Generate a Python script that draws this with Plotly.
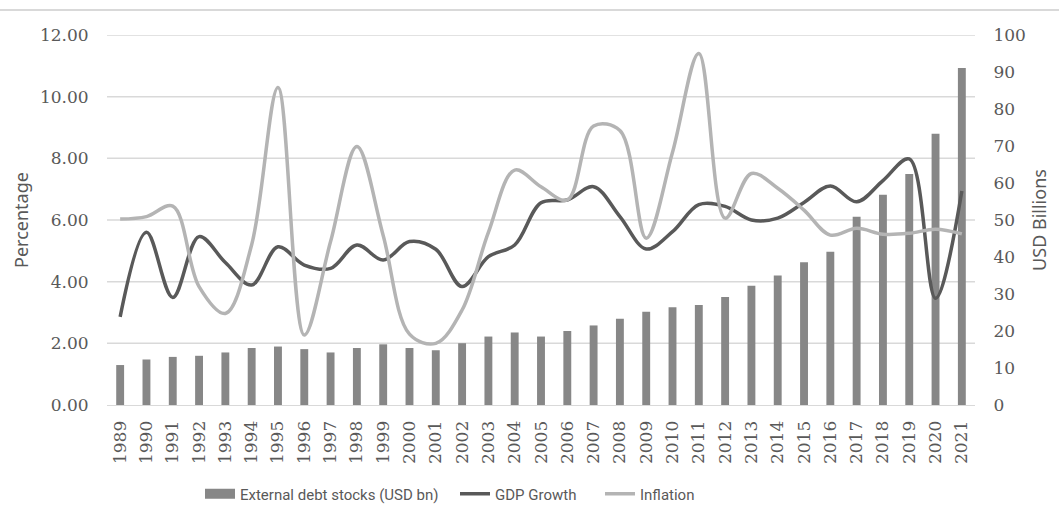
import plotly.graph_objects as go

years = [str(y) for y in range(1989, 2022)]
debt_usd_bn = [10.8, 12.3, 13.0, 13.3, 14.2, 15.4, 15.8, 15.1, 14.2, 15.4,
               16.4, 15.4, 14.8, 16.7, 18.5, 19.6, 18.5, 20.0, 21.5, 23.3,
               25.2, 26.4, 27.0, 29.2, 32.2, 35.0, 38.6, 41.4, 50.9, 56.8,
               62.4, 73.3, 91.1]
gdp_growth = [2.86, 5.60, 3.49, 5.46, 4.62, 3.89, 5.13, 4.54, 4.43, 5.19,
              4.70, 5.30, 5.05, 3.84, 4.81, 5.19, 6.56, 6.65, 7.08, 6.11,
              5.06, 5.62, 6.50, 6.44, 6.00, 6.06, 6.57, 7.10, 6.59, 7.28,
              7.98, 3.46, 6.94]
inflation = [6.03, 6.11, 6.45, 3.84, 2.97, 5.20, 10.30, 2.27, 5.30, 8.38,
             5.50, 2.30, 2.00, 3.08, 5.60, 7.62, 7.08, 6.65, 9.05, 8.90,
             5.41, 8.20, 11.40, 6.06, 7.51, 7.03, 6.32, 5.51, 5.73, 5.54,
             5.57, 5.70, 5.55]
left_ticks = [0, 2, 4, 6, 8, 10, 12]
right_ticks = list(range(0, 101, 10))

BAR_C = "#878787"
GDP_C = "#595959"
INF_C = "#b4b4b4"
TXT_C = "#595959"
GRID_C = "#d9d9d9"

W, H = 1059, 506
L, R, T, B = 107, 84, 35, 101
pw, ph = W - L - R, H - T - B

tick_font = dict(family="DejaVu Serif", size=17, color=TXT_C)
leg_font = dict(family="Roboto, sans-serif", size=15, color=TXT_C)
title_font = dict(family="Noto Sans", size=18, color=TXT_C)

fig = go.Figure()
# bars on the base (right-side) axis so the lines overlay them
fig.add_trace(go.Bar(x=years, y=debt_usd_bn, yaxis="y", marker_color=BAR_C,
                     marker_line_width=0, showlegend=False,
                     name="External debt stocks (USD bn)"))
# legend swatch for the bars (rectangular like the original)
fig.add_trace(go.Scatter(x=[years[0]], y=[None], yaxis="y", mode="lines",
                         line=dict(color=BAR_C, width=10),
                         name="External debt stocks (USD bn)", legend="legend"))
fig.add_trace(go.Scatter(x=years, y=gdp_growth, yaxis="y2", mode="lines",
                         line=dict(color=GDP_C, width=3.5, shape="spline", smoothing=1.0),
                         name="GDP Growth", legend="legend2"))
fig.add_trace(go.Scatter(x=years, y=inflation, yaxis="y2", mode="lines",
                         line=dict(color=INF_C, width=3.5, shape="spline", smoothing=1.0),
                         name="Inflation", legend="legend3"))

def lx(px):
    return (px - L) / pw

leg_y = (T + ph - 494) / ph
common_leg = dict(orientation="h", yanchor="middle", y=leg_y, xanchor="left",
                  font=leg_font, bgcolor="rgba(0,0,0,0)", itemwidth=30)

fig.update_layout(
    width=W, height=H,
    margin=dict(l=L, r=R, t=T, b=B, autoexpand=False),
    paper_bgcolor="white", plot_bgcolor="white",
    bargap=0.7,
    xaxis=dict(type="category", tickangle=-90, tickfont=tick_font,
               showgrid=False, showline=True, linecolor=GRID_C, linewidth=1,
               ticks="outside", ticklen=8, tickcolor="rgba(0,0,0,0)"),
    yaxis=dict(range=[0, 100], side="right", tickvals=right_ticks,
               tickfont=tick_font, showgrid=False, zeroline=False,
               ticks="outside", ticklen=14, tickcolor="rgba(0,0,0,0)",
               title=dict(text="USD Billions", font=title_font, standoff=8)),
    yaxis2=dict(range=[0, 12], overlaying="y", side="left", tickvals=left_ticks,
                ticktext=[f"{v:.2f}" for v in left_ticks],
                tickfont=tick_font, showgrid=False,
                zeroline=False, ticks="outside", ticklen=14, tickcolor="rgba(0,0,0,0)",
                title=dict(text="Percentage", font=title_font, standoff=6)),
    legend=dict(common_leg, x=lx(200)),
    legend2=dict(common_leg, x=lx(455)),
    legend3=dict(common_leg, x=lx(600)),
)

# horizontal gridlines of the percentage axis, drawn beneath the data
for v in left_ticks[1:]:
    fig.add_shape(type="line", xref="x domain", yref="y2", x0=0, x1=1, y0=v, y1=v,
                  line=dict(color=GRID_C, width=1.5), layer="below")

# chart-area top border
fig.add_shape(type="line", xref="paper", yref="paper",
              x0=-L / pw, x1=(W - L) / pw, y0=(ph + T - 10) / ph, y1=(ph + T - 10) / ph,
              line=dict(color=GRID_C, width=2))

fig.write_html("out.html")
